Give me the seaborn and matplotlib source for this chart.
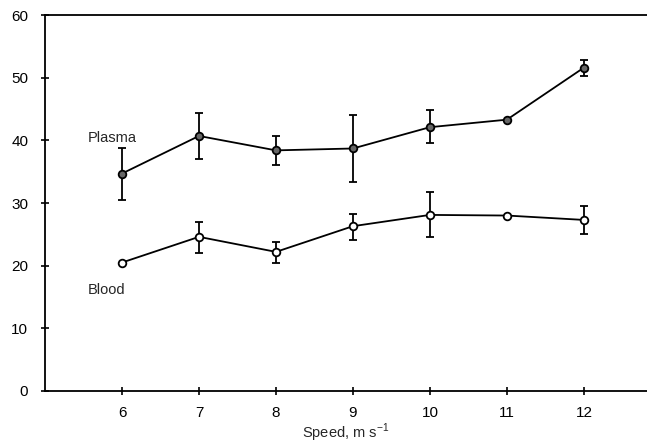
import matplotlib
matplotlib.use("Agg")
import matplotlib.pyplot as plt
import seaborn as sns
import pandas as pd
import numpy as np

speed = [6, 7, 8, 9, 10, 11, 12]
plasma = [34.7, 40.7, 38.4, 38.7, 42.1, 43.3, 51.6]
plasma_lo = [30.5, 37.0, 36.0, 33.3, 39.5, 43.3, 50.3]
plasma_hi = [38.7, 44.4, 40.7, 44.0, 44.8, 43.3, 52.8]
blood = [20.5, 24.6, 22.2, 26.3, 28.1, 28.0, 27.3]
blood_lo = [20.5, 22.0, 20.4, 24.1, 24.6, 28.0, 25.1]
blood_hi = [20.5, 27.0, 23.8, 28.3, 31.8, 28.0, 29.5]
yticks = [0, 10, 20, 30, 40, 50, 60]
xticks = [6, 7, 8, 9, 10, 11, 12]

sns.set_style("ticks")
plt.rcParams['font.family'] = ['Liberation Sans', 'DejaVu Sans']

fig = plt.figure(figsize=(6.47, 4.47), dpi=100)
ax = fig.add_axes([0.0696, 0.1253, 0.9304, 0.8411])

dfp = pd.DataFrame({"speed": speed, "val": plasma})
dfb = pd.DataFrame({"speed": speed, "val": blood})

def bars(x, y, lo, hi):
    y = np.array(y); lo = np.array(lo); hi = np.array(hi)
    mask = (hi - lo) > 0
    ax.errorbar(np.array(x)[mask], y[mask],
                yerr=[y[mask] - lo[mask], hi[mask] - y[mask]],
                fmt='none', ecolor='black', elinewidth=1.3, capsize=3, capthick=1.3, zorder=2)

bars(speed, plasma, plasma_lo, plasma_hi)
bars(speed, blood, blood_lo, blood_hi)

sns.lineplot(data=dfp, x="speed", y="val", ax=ax, color='black', lw=1.3,
             marker='o', markersize=5.5, markerfacecolor='#666666',
             markeredgecolor='black', markeredgewidth=1.3, zorder=3)
sns.lineplot(data=dfb, x="speed", y="val", ax=ax, color='black', lw=1.3,
             marker='o', markersize=5.5, markerfacecolor='white',
             markeredgecolor='black', markeredgewidth=1.3, zorder=3)

ax.text(5.56, 40.3, "Plasma", fontsize=10.5, va='center', ha='left')
ax.text(5.56, 16.1, "Blood", fontsize=10.5, va='center', ha='left')

ax.set_xlim(5, 12.82)
ax.set_ylim(0, 60)
ax.set_xticks(xticks)
ax.set_yticks(yticks)
ax.tick_params(direction='inout', length=6, width=1.2, labelsize=11, colors='black')
ax.tick_params(axis='y', pad=9)
ax.tick_params(axis='x', pad=8)
ax.set_xlabel("Speed, m s$^{\\mathregular{-1}}$", fontsize=10.5, labelpad=1)
ax.set_ylabel("")
for s in ['left', 'bottom', 'top']:
    ax.spines[s].set_linewidth(1.3)
    ax.spines[s].set_color('black')
ax.spines['right'].set_visible(False)

fig.savefig("out.png", dpi=100)
